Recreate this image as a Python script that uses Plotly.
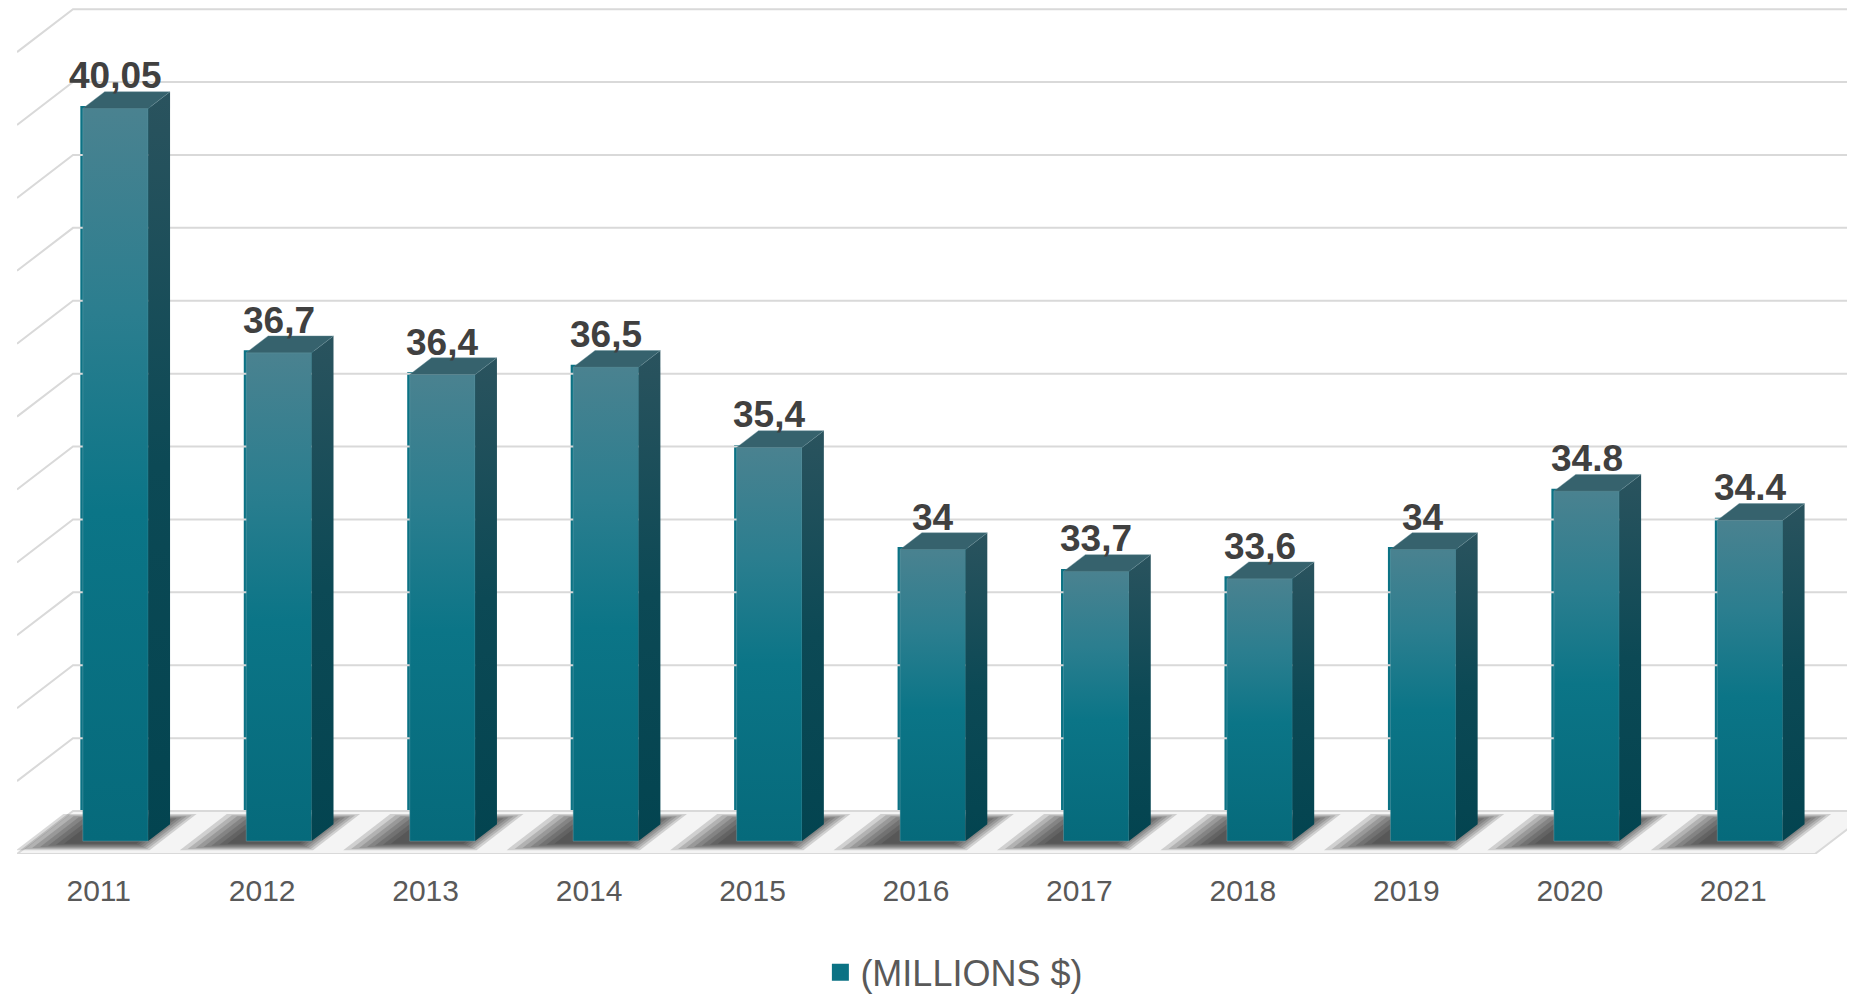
import plotly.graph_objects as go

# ---------------- data ----------------
YEARS = ["2011", "2012", "2013", "2014", "2015", "2016", "2017", "2018", "2019", "2020", "2021"]
VALUES = [40.05, 36.7, 36.4, 36.5, 35.4, 34.0, 33.7, 33.6, 34.0, 34.8, 34.4]
LABELS = ["40,05", "36,7", "36,4", "36,5", "35,4", "34", "33,7", "33,6", "34", "34.8", "34.4"]
GRID_VALUES = [31, 32, 33, 34, 35, 36, 37, 38, 39, 40, 41]
SERIES_NAME = "(MILLIONS $)"
AXIS_MIN = 30

# ---------------- 3D projection settings ----------------
DX = 0.3426      # x shift (category units) for full floor depth
DY = 0.589       # y shift (value units) for full floor depth
BAR_W = 0.4
D_FRONT = 0.30   # depth of bar front face (0 = front edge, 1 = back wall)
D_BACK = 0.69
X_LEFT, X_RIGHT = -0.5, 10.5

FONT = "Arial, Liberation Sans, sans-serif"


def P(x, v, d):
    """project (x, value, depth) into front-plane data coordinates"""
    return x + d * DX, v + d * DY


def poly(points):
    xs = [p[0] for p in points] + [points[0][0]]
    ys = [p[1] for p in points] + [points[0][1]]
    return xs, ys


idx = list(range(len(YEARS)))
fig = go.Figure()

# base bar trace (front faces; also provides the legend entry)
fig.add_trace(go.Bar(
    x=idx,
    y=[v - AXIS_MIN for v in VALUES],
    base=AXIS_MIN + D_FRONT * DY,
    width=BAR_W,
    offset=-BAR_W / 2 + D_FRONT * DX,
    marker=dict(color="#0b7284", line=dict(color="#0b7284", width=5)),
    name=SERIES_NAME,
    showlegend=True,
    hoverinfo="skip",
))

# ---------- walls gridlines ----------
gx, gy = [], []
for g in GRID_VALUES:
    a = P(X_LEFT, g, 0)
    b = P(X_LEFT, g, 1)
    c = P(X_RIGHT, g, 1)
    gx += [a[0], b[0], c[0], None]
    gy += [a[1], b[1], c[1], None]
fig.add_trace(go.Scatter(x=gx, y=gy, mode="lines", line=dict(color="#d9d9d9", width=2),
                         showlegend=False, hoverinfo="skip"))

# ---------- floor ----------
fx, fy = poly([P(X_LEFT, AXIS_MIN, 0), P(X_RIGHT, AXIS_MIN, 0),
               P(X_RIGHT, AXIS_MIN, 1), P(X_LEFT, AXIS_MIN, 1)])
fig.add_trace(go.Scatter(x=fx, y=fy, mode="lines", fill="toself", fillcolor="#f4f4f4",
                         line=dict(color="#d9d9d9", width=2), showlegend=False, hoverinfo="skip"))

# ---------- shadows on the floor ----------
for i in idx:
    for k in range(7):
        ex = 0.015 + 0.04 * k
        ed = 0.025 * k
        x0, x1 = i - 0.28 - ex, i + 0.14 + ex * 0.55
        d0, d1 = max(0.05, 0.24 - ed), min(0.95, 0.78 + ed)
        sx, sy = poly([P(x0, AXIS_MIN, d0), P(x1, AXIS_MIN, d0),
                       P(x1, AXIS_MIN, d1), P(x0, AXIS_MIN, d1)])
        fig.add_trace(go.Scatter(x=sx, y=sy, mode="lines", fill="toself",
                                 fillcolor="rgba(30,30,30,0.17)", line=dict(width=0),
                                 showlegend=False, hoverinfo="skip"))

# ---------- 3D bar faces ----------
for i, v in zip(idx, VALUES):
    xl, xr = i - BAR_W / 2, i + BAR_W / 2
    # front face with vertical gradient
    px, py = poly([P(xl, AXIS_MIN, D_FRONT), P(xr, AXIS_MIN, D_FRONT),
                   P(xr, v, D_FRONT), P(xl, v, D_FRONT)])
    fig.add_trace(go.Scatter(
        x=px, y=py, mode="lines", fill="toself",
        fillgradient=dict(type="vertical",
                          colorscale=[[0, "#066a7b"], [0.45, "#0b7587"], [0.72, "#2b7e8f"], [1, "#4a8290"]]),
        line=dict(color="rgba(120,170,180,0.5)", width=0.8),
        showlegend=False, hoverinfo="skip"))
    # side face
    sx, sy = poly([P(xr, AXIS_MIN, D_FRONT), P(xr, AXIS_MIN, D_BACK),
                   P(xr, v, D_BACK), P(xr, v, D_FRONT)])
    fig.add_trace(go.Scatter(
        x=sx, y=sy, mode="lines", fill="toself",
        fillgradient=dict(type="vertical",
                          colorscale=[[0, "#034450"], [0.5, "#0c4955"], [1, "#2a535e"]]),
        line=dict(width=0), showlegend=False, hoverinfo="skip"))
    # top face
    tx, ty = poly([P(xl, v, D_FRONT), P(xr, v, D_FRONT), P(xr, v, D_BACK), P(xl, v, D_BACK)])
    fig.add_trace(go.Scatter(
        x=tx, y=ty, mode="lines", fill="toself", fillcolor="#36626d",
        line=dict(color="rgba(100,140,150,0.5)", width=0.8), showlegend=False, hoverinfo="skip"))

# ---------- data labels ----------
annotations = []
for i, v, lab in zip(idx, VALUES, LABELS):
    ax, ay = P(i, v, D_FRONT)
    annotations.append(dict(
        x=ax, y=ay, xref="x", yref="y", text=lab, showarrow=False,
        yanchor="bottom", xanchor="center", yshift=10,
        font=dict(family=FONT, size=37, color="#404040", weight="bold"),
    ))

# the page body has an 8px default margin, so the figure is 8px smaller
W, H = 1847, 987
ML, MR, MT, MB = 9, 0, 0, 141
PX_PER_CAT = 163.45
PX_PER_VAL = 72.9
plot_w = W - ML - MR
plot_h = H - MT - MB

fig.update_layout(
    template="none",
    width=W, height=H,
    margin=dict(l=ML, r=MR, t=MT, b=MB, pad=0, autoexpand=False),
    paper_bgcolor="white", plot_bgcolor="white",
    bargap=0.6,
    xaxis=dict(range=[X_LEFT, X_LEFT + plot_w / PX_PER_CAT], tickvals=idx, ticktext=YEARS,
               showgrid=False, zeroline=False, showline=False, ticks="outside", ticklen=10,
               tickcolor="rgba(0,0,0,0)", automargin=False,
               tickfont=dict(family=FONT, size=30, color="#595959"), fixedrange=True),
    yaxis=dict(range=[AXIS_MIN, AXIS_MIN + plot_h / PX_PER_VAL], visible=False, fixedrange=True,
               automargin=False),
    showlegend=True,
    legend=dict(orientation="h", x=0.51, xanchor="center", y=-0.140, yanchor="middle",
                font=dict(family=FONT, size=36, color="#595959"), itemsizing="trace",
                bgcolor="rgba(0,0,0,0)"),
    annotations=annotations,
)

fig.write_html("out.html")
